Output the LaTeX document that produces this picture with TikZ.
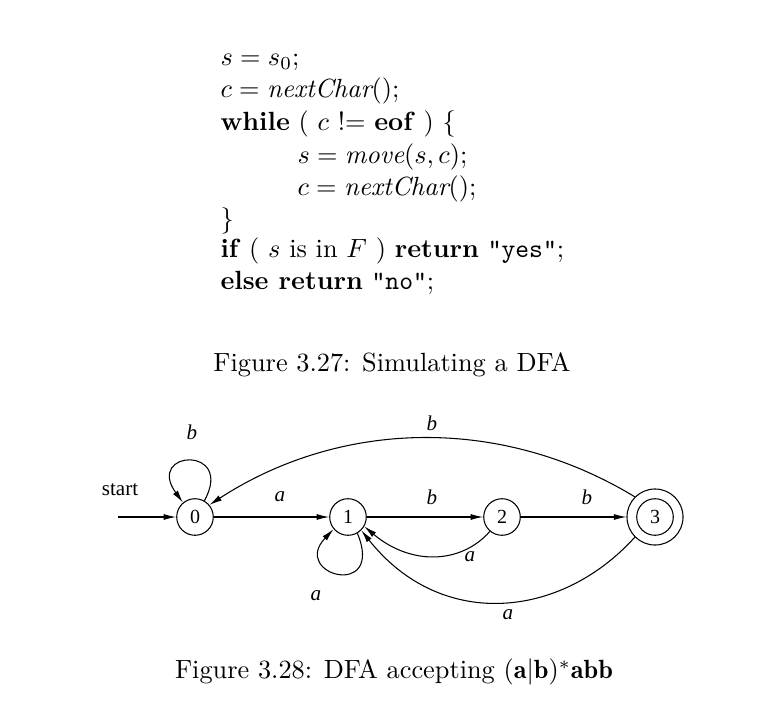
\documentclass[tikz,border=0pt]{standalone}
\usepackage{fontspec}
\newfontfamily\tms{Liberation Serif}
\usetikzlibrary{arrows.meta}
\begin{document}
\begin{tikzpicture}[x=0.38pt,y=-0.38pt,
  st/.style={circle,draw,minimum size=13.9pt,inner sep=0pt,font=\tms\fontsize{7.6}{9}\selectfont},
  lbl/.style={font=\tms\itshape\fontsize{8}{9}\selectfont},
  code/.style={anchor=base west,inner sep=0pt},
  arr/.style={-{Latex[length=4.8pt,width=2.3pt]},line width=0.4pt}]
\useasboundingbox (0,0) rectangle (776,727);
\node[code] (l1) at (220,66) {$s = s_0;$};
\node[code] (l2) at (220,98) {$c = \mathit{nextChar}();$};
\node[code] (l3) at (220,131) {\textbf{while} ( $c$ != \textbf{eof} ) \{};
\node[code] (l4) at (297,163) {$s = \mathit{move}(s,c);$};
\node[code] (l5) at (297,195) {$c = \mathit{nextChar}();$};
\node[code] (l6) at (220,227) {\}};
\node[code] (l7) at (220,257) {\textbf{if} ( $s$ is in $F$ ) \textbf{return} \texttt{"yes"};};
\node[code] (l8) at (220,289) {\textbf{else return} \texttt{"no"};};
\node (cap1) at (392,365) {Figure 3.27: Simulating a DFA};

\node[st] (s0) at (195,517) {0};
\node[st] (s1) at (348,517) {1};
\node[st] (s2) at (502,517) {2};
\node[st,minimum size=21.3pt] (s3) at (655,517) {};
\node[st] (s3i) at (655,517) {3};
\coordinate (start) at (118,517);
\node[font=\tms\fontsize{8}{9}\selectfont] (startl) at (120,490) {start};

\draw[arr] (start) -- (s0);
\draw[arr] (s0.60) .. controls (235,445) and (145,450) .. (s0.130);
\node[lbl] (lb0) at (192,432) {b};
\draw[arr] (s0) -- (s1);
\node[lbl] (la01) at (280,497) {a};
\draw[arr] (s1.-60) .. controls (385,600) and (290,575) .. (s1.-140);
\node[lbl] (la11) at (316,596) {a};
\draw[arr] (s1) -- (s2);
\node[lbl] (lb12) at (432,497) {b};
\draw[arr] (s2) -- (s3);
\node[lbl] (lb23) at (587,497) {b};
\draw[arr] (s3.135) .. controls (500,415) and (340,420) .. (s0.40);
\node[lbl] (lb30) at (432,423) {b};
\draw[arr] (s2.-130) .. controls (460,565) and (410,565) .. (s1.-30);
\node[lbl] (la21) at (470,557) {a};
\draw[arr] (s3.-135) .. controls (560,620) and (440,630) .. (s1.-45);
\node[lbl] (la31) at (508,615) {a};

\node (cap2) at (394,672) {Figure 3.28: DFA accepting $(\mathbf{a}|\mathbf{b})^{*}\mathbf{abb}$};
\end{tikzpicture}
\end{document}
